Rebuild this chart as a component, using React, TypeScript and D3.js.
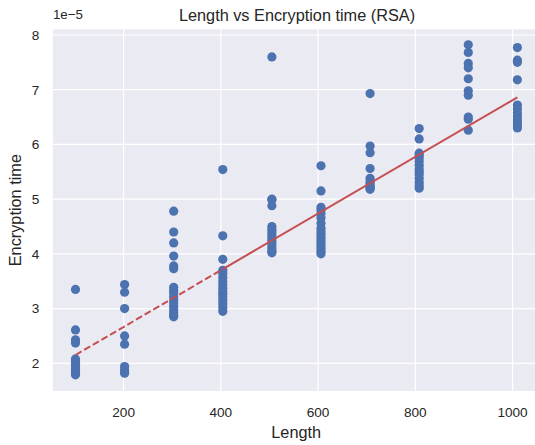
import React, { useEffect, useRef } from "react";
import * as d3 from "d3";

// message lengths (x) and measured encryption times (in units of 1e-5 s)
const lengths = [101, 202, 303, 404, 505, 606, 707, 808, 909, 1010];
const times: number[][] = [
  [3.35, 2.61, 2.43, 2.37, 2.08, 2.04, 2.0, 1.95, 1.9, 1.86, 1.82, 1.79],
  [3.44, 3.3, 3.0, 2.5, 2.35, 1.94, 1.88, 1.84, 1.82],
  [4.78, 4.4, 4.2, 3.96, 3.78, 3.73, 3.39, 3.33, 3.29, 3.22, 3.16, 3.1, 3.04, 2.98, 2.93, 2.88, 2.85],
  [5.54, 4.33, 3.9, 3.7, 3.64, 3.57, 3.5, 3.43, 3.37, 3.31, 3.26, 3.21, 3.15, 3.09, 3.02, 2.95],
  [7.6, 5.0, 4.99, 4.88, 4.5, 4.45, 4.4, 4.35, 4.3, 4.25, 4.2, 4.15, 4.1, 4.05, 4.02],
  [5.61, 5.15, 4.85, 4.8, 4.74, 4.66, 4.56, 4.47, 4.41, 4.36, 4.3, 4.25, 4.2, 4.15, 4.1, 4.05, 4.0],
  [6.93, 5.97, 5.85, 5.56, 5.38, 5.33, 5.29, 5.25, 5.22, 5.2, 5.18],
  [6.29, 6.1, 5.84, 5.8, 5.75, 5.69, 5.62, 5.55, 5.5, 5.45, 5.38, 5.31, 5.25, 5.2],
  [7.82, 7.68, 7.48, 7.4, 7.2, 6.98, 6.9, 6.5, 6.46, 6.26],
  [7.77, 7.54, 7.5, 7.18, 6.72, 6.65, 6.58, 6.51, 6.45, 6.4, 6.35, 6.3],
];
const xTicks = [200, 400, 600, 800, 1000];
const yTicks = [2, 3, 4, 5, 6, 7, 8];
// fitted line: time = intercept + slope * length
const fitIntercept = 1.629;
const fitSlope = 0.005179;
const dashEnd = 404;

export default function App() {
  const svgRef = useRef<SVGSVGElement>(null);

  useEffect(() => {
    const svg = d3.select(svgRef.current);
    svg.selectAll("*").remove();

    const width = 535;
    const height = 445;
    const margin = { top: 29.3, left: 52.9, bottom: 391 };
    const font = "Arial, 'Liberation Sans', sans-serif";

    const x = d3.scaleLinear().domain([54.5, 1055.5]).range([margin.left, 539.5]);
    const y = d3.scaleLinear().domain([1.494, 8.104]).range([margin.bottom, margin.top]);

    svg.attr("width", width).attr("height", height);

    // panel background
    svg.append("rect")
      .attr("x", margin.left)
      .attr("y", margin.top)
      .attr("width", 539.5 - margin.left)
      .attr("height", margin.bottom - margin.top)
      .attr("fill", "#EAEAF2");

    // grid
    const grid = svg.append("g").attr("stroke", "#fff").attr("stroke-width", 1.2);
    xTicks.forEach((t) => {
      grid.append("line")
        .attr("x1", x(t)).attr("x2", x(t))
        .attr("y1", margin.top).attr("y2", margin.bottom);
    });
    yTicks.forEach((t) => {
      grid.append("line")
        .attr("x1", margin.left).attr("x2", 539.5)
        .attr("y1", y(t)).attr("y2", y(t));
    });

    // tick labels
    svg.append("g")
      .selectAll("text")
      .data(xTicks)
      .join("text")
      .attr("x", (d) => x(d))
      .attr("y", 416.5)
      .attr("text-anchor", "middle")
      .attr("font-family", font)
      .attr("font-size", 13.6)
      .attr("fill", "#262626")
      .text((d) => d);

    svg.append("g")
      .selectAll("text")
      .data(yTicks)
      .join("text")
      .attr("x", 39.3)
      .attr("y", (d) => y(d) + 4.9)
      .attr("text-anchor", "end")
      .attr("font-family", font)
      .attr("font-size", 13.6)
      .attr("fill", "#262626")
      .text((d) => d);

    svg.append("text")
      .attr("x", margin.left)
      .attr("y", 19)
      .attr("font-family", font)
      .attr("font-size", 13.3)
      .attr("fill", "#262626")
      .text("1e\u22125");

    // points
    const pts = lengths.flatMap((l, i) => times[i].map((t) => [l, t]));
    svg.append("g")
      .selectAll("circle")
      .data(pts)
      .join("circle")
      .attr("cx", (d) => x(d[0]))
      .attr("cy", (d) => y(d[1]))
      .attr("r", 4.6)
      .attr("fill", "#4C72B0");

    // fitted line: dashed first part, solid after
    const fit = (l: number) => fitIntercept + fitSlope * l;
    const line = d3.line<number>().x((d) => x(d)).y((d) => y(fit(d)));
    svg.append("path")
      .attr("d", line([lengths[0], dashEnd]))
      .attr("fill", "none")
      .attr("stroke", "#C44E52")
      .attr("stroke-width", 2)
      .attr("stroke-dasharray", "7,3");
    svg.append("path")
      .attr("d", line([dashEnd, lengths[lengths.length - 1]]))
      .attr("fill", "none")
      .attr("stroke", "#C44E52")
      .attr("stroke-width", 2);

    // title & axis labels
    svg.append("text")
      .attr("x", 297)
      .attr("y", 20.5)
      .attr("text-anchor", "middle")
      .attr("font-family", font)
      .attr("font-size", 16.3)
      .attr("fill", "#262626")
      .text("Length vs Encryption time (RSA)");

    svg.append("text")
      .attr("x", 296.2)
      .attr("y", 438)
      .attr("text-anchor", "middle")
      .attr("font-family", font)
      .attr("font-size", 16.3)
      .attr("fill", "#262626")
      .text("Length");

    svg.append("text")
      .attr("transform", `translate(21,${(margin.top + margin.bottom) / 2}) rotate(-90)`)
      .attr("text-anchor", "middle")
      .attr("font-family", font)
      .attr("font-size", 16.3)
      .attr("fill", "#262626")
      .text("Encryption time");
  }, []);

  return (
    <div>
      {/* chart */}
      <svg ref={svgRef} style={{ position: "absolute", left: 0, top: 0 }}></svg>
    </div>
  );
}
